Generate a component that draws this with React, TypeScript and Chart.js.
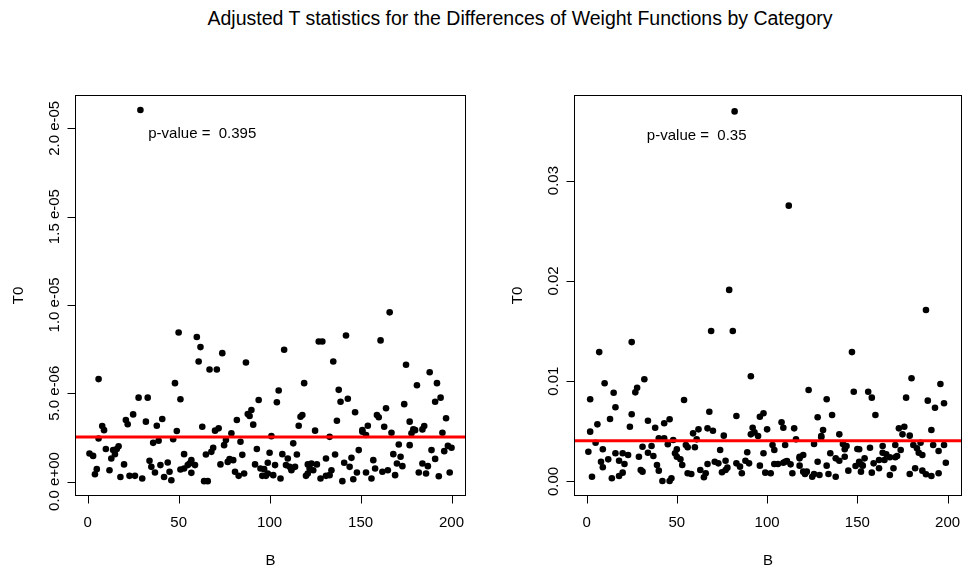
import React, { useEffect, useRef } from "react";
import { Chart, registerables } from "chart.js";

Chart.register(...registerables);

const FONT = '"Liberation Sans", Arial, Helvetica, sans-serif';

const TITLE = "Adjusted T statistics for the Differences of Weight Functions by Category";
const X_TITLE = "B";
const Y_TITLE = "T0";

const X_TICKS = [0, 50, 100, 150, 200];
const LEFT_Y_TICKS = [0, 5e-6, 1e-5, 1.5e-5, 2e-5];
const LEFT_Y_LABELS = ["0.0 e+00", "5.0 e-06", "1.0 e-05", "1.5 e-05", "2.0 e-05"];
const RIGHT_Y_TICKS = [0, 0.01, 0.02, 0.03];
const RIGHT_Y_LABELS = ["0.00", "0.01", "0.02", "0.03"];

// Left panel: B index and T0 (in units of 1e-6)
const LEFT_B = [
  1, 3, 4, 5, 6, 6, 8, 9, 10, 12, 13, 14, 15, 16, 17, 18, 20, 21, 22, 23, 25, 26, 28, 29, 30, 32, 33, 34, 35, 36, 37, 38, 39, 40, 41, 42, 44, 45, 46, 47, 48, 49, 50,
  51, 51, 53, 53, 55, 56, 57, 57, 59, 60, 61, 62, 63, 64, 65, 66, 67, 68, 69, 70, 71, 72, 73, 74, 75, 76, 77, 78, 79, 80, 81, 82, 83, 84, 85, 86, 87, 88, 89, 90, 91, 92, 93, 94, 95, 96, 97, 98, 99, 100, 101,
  99, 102, 103, 104, 105, 106, 107, 108, 109, 110, 111, 112, 112, 113, 114, 115, 116, 117, 118, 119, 120, 121, 121, 122, 123, 124, 125, 126, 127, 128, 129, 131, 131, 133, 133, 134, 135, 136, 137, 138, 139, 140, 141, 142, 143, 144, 145, 146, 147, 148, 149, 151,
  151, 153, 153, 154, 156, 157, 158, 159, 160, 161, 162, 163, 164, 165, 166, 167, 168, 169, 170, 171, 172, 173, 174, 175, 177, 177, 178, 179, 180, 181, 182, 184, 185, 184, 186, 187, 188, 189, 191, 191, 192, 193, 194, 195, 196, 197, 198, 199, 200,
];
const LEFT_T0_E6 = [
  1.59, 1.45, 0.41, 0.70, 2.44, 5.80, 3.14, 2.91, 1.84, 0.64, 1.30, 1.78, 1.55, 1.84, 2.00, 0.26, 0.97, 3.48, 3.24, 0.32, 3.80, 0.32, 4.75, 21.04, 0.17, 3.39, 4.75, 1.17, 0.83, 2.19, 0.51, 3.16, 2.31, 0.93, 3.54, 0.26, 1.08, 0.55, 0.07, 2.39, 5.57, 2.86, 8.44,
  4.66, 0.68, 1.55, 0.74, 0.93, 1.02, 1.21, 0.49, 0.93, 8.18, 6.80, 7.61, 3.10, 0.02, 1.53, 0.02, 6.34, 1.68, 1.91, 2.88, 6.34, 3.01, 0.97, 7.27, 2.06, 2.35, 1.11, 1.27, 2.73, 1.21, 0.55, 3.48, 0.32, 2.25, 1.51, 0.45, 6.74, 3.82, 3.71, 4.05, 3.22, 0.97, 1.84, 4.62, 0.74, 0.32, 0.70, 0.32, 1.06, 1.63, 2.57,
  0.45, 0.36, 0.93, 4.49, 5.15, 0.17, 1.55, 7.46, 0.93, 1.30, 0.83, 0.64, 0.74, 2.16, 0.83, 1.53, 3.16, 3.67, 3.77, 5.57, 0.32, 0.97, 0.45, 0.74, 1.02, 0.64, 2.88, 0.97, 7.93, 0.17, 7.93, 0.32, 1.30, 0.36, 2.53, 0.64, 6.80, 1.53, 3.44, 5.19, 4.52, 0.02, 1.06, 8.27, 4.69, 0.83, 1.34, 0.13, 3.92, 0.51, 1.78, 2.82,
  2.91, 2.63, 0.51, 3.16, 0.17, 1.21, 0.74, 3.77, 3.64, 7.99, 0.55, 3.10, 4.15, 0.64, 9.58, 2.76, 1.55, 0.36, 1.02, 2.10, 1.40, 0.87, 4.38, 6.61, 2.06, 3.39, 2.73, 2.95, 2.91, 5.45, 0.51, 2.95, 3.14, 1.02, 0.45, 0.87, 6.19, 1.78, 1.28, 4.52, 5.57, 0.30, 4.75, 2.76, 1.72, 3.58, 2.02, 0.51, 1.91,
];

// Right panel: B index and T0 (in units of 1e-3)
const RIGHT_B = [
  1, 2, 2, 3, 5, 6, 7, 8, 9, 9, 10, 12, 13, 14, 15, 16, 16, 18, 18, 20, 20, 21, 23, 24, 25, 25, 27, 28, 29, 30, 31, 31, 32, 34, 34, 36, 37, 38, 39, 40, 40, 42, 43, 43, 45, 46, 46, 47, 48, 49,
  50, 50, 52, 53, 54, 55, 56, 56, 58, 59, 60, 61, 62, 63, 65, 66, 67, 67, 68, 69, 70, 71, 73, 74, 75, 76, 77, 77, 78, 79, 81, 82, 83, 83, 85, 86, 88, 89, 90, 91, 91, 92, 93, 95, 96, 96, 98, 98, 99, 100,
  102, 103, 104, 104, 106, 108, 109, 109, 110, 110, 111, 112, 113, 114, 115, 116, 118, 118, 118, 120, 120, 121, 122, 123, 125, 126, 126, 128, 128, 129, 130, 130, 131, 133, 133, 134, 135, 136, 138, 138, 140, 140, 142, 143, 143, 144, 145, 147, 148, 149, 150,
  151, 151, 152, 152, 153, 154, 156, 157, 158, 158, 159, 160, 162, 162, 164, 164, 165, 166, 168, 168, 170, 171, 171, 172, 173, 174, 175, 176, 177, 179, 179, 180, 181, 182, 183, 184, 185, 186, 186, 188, 188, 189, 191, 191, 192, 193, 195, 195, 196, 198, 198, 199,
];
const RIGHT_T0_E3 = [
  2.97, 8.20, 4.97, 0.48, 3.87, 5.70, 12.9, 1.97, 3.21, 1.42, 9.79, 2.21, 6.23, 0.32, 8.85, 7.40, 2.81, 2.07, 0.55, 2.81, 0.88, 1.74, 2.64, 5.46, 6.70, 13.9, 8.89, 9.35, 2.47, 1.15, 0.98, 3.47, 10.2, 2.87, 6.06, 3.54, 2.54, 5.36, 1.65, 4.31, 1.08, 0.05, 4.31, 5.80, 3.71, 6.20, 0.05, 0.32, 4.14, 2.81,
  3.21, 2.47, 2.21, 1.65, 8.13, 3.64, 0.82, 3.41, 0.75, 4.80, 3.41, 4.20, 5.20, 1.15, 0.42, 0.82, 5.30, 1.74, 6.96, 15.0, 5.06, 1.97, 1.81, 3.14, 0.92, 4.57, 1.15, 2.07, 1.38, 19.1, 15.0, 36.9, 6.53, 1.81, 1.48, 0.82, 2.07, 2.91, 1.81, 10.5, 4.70, 5.36, 4.90, 4.54, 1.58, 6.46, 6.80, 2.81, 0.88, 5.20,
  0.82, 3.64, 3.14, 1.74, 1.74, 5.90, 5.36, 1.87, 3.64, 1.97, 2.04, 27.5, 1.71, 0.82, 5.30, 4.20, 2.47, 1.58, 2.31, 2.64, 0.98, 0.75, 0.98, 9.12, 0.48, 3.74, 0.75, 6.40, 1.97, 0.65, 4.40, 4.54, 5.13, 8.20, 1.58, 0.75, 2.81, 6.63, 0.48, 2.31, 2.07, 4.70, 3.74, 3.21, 2.47, 3.54, 1.08, 12.9, 8.95, 1.55, 3.24,
  3.21, 1.97, 1.71, 0.98, 1.58, 2.31, 8.95, 3.37, 8.36, 0.88, 1.81, 6.63, 1.32, 2.14, 2.87, 3.54, 2.14, 2.71, 0.65, 2.41, 1.32, 3.64, 2.41, 2.54, 5.30, 3.14, 4.70, 5.46, 8.36, 0.75, 4.57, 10.3, 3.64, 1.32, 3.31, 2.87, 3.87, 2.64, 1.08, 0.72, 17.1, 8.06, 0.55, 5.13, 3.64, 7.36, 0.82, 3.04, 9.72, 3.64, 7.80, 1.87,
];

const LEFT_MEAN = 2.52e-6;
const RIGHT_MEAN = 0.00407;
const LEFT_PVALUE = "p-value =  0.395";
const RIGHT_PVALUE = "p-value =  0.35";

type PanelProps = {
  left: number;
  padding: { left: number; right: number; top: number; bottom: number };
  xs: number[];
  ys: number[];
  mean: number;
  xMin: number;
  xMax: number;
  yMin: number;
  yMax: number;
  yTicks: number[];
  yLabels: string[];
  pText: string;
  pAt: [number, number];
};

function Panel(props: PanelProps) {
  const ref = useRef<HTMLCanvasElement | null>(null);
  useEffect(() => {
    const canvas = ref.current;
    if (!canvas) return;
    const points = props.xs.map((b, i) => ({ x: b, y: props.ys[i] }));
    const rAxes = {
      id: "rAxes",
      afterDraw(chart: any) {
        const { ctx, chartArea: a, scales } = chart;
        const x = scales.x;
        const y = scales.y;
        ctx.save();
        ctx.strokeStyle = "#000";
        ctx.fillStyle = "#000";
        ctx.lineWidth = 1;
        const L = Math.round(a.left) + 0.5;
        const T = Math.round(a.top) + 0.5;
        const R = Math.round(a.right) - 0.5;
        const B = Math.round(a.bottom) - 0.5;
        ctx.strokeRect(L, T, R - L, B - T);
        ctx.font = `15px ${FONT}`;
        ctx.textAlign = "center";
        ctx.textBaseline = "middle";
        // x axis
        ctx.beginPath();
        X_TICKS.forEach((v) => {
          const px = Math.round(x.getPixelForValue(v)) + 0.5;
          ctx.moveTo(px, B);
          ctx.lineTo(px, B + 8);
        });
        ctx.stroke();
        X_TICKS.forEach((v) => {
          const px = x.getPixelForValue(v);
          ctx.fillText(String(v), px, B + 27);
        });
        // y axis
        ctx.beginPath();
        props.yTicks.forEach((v) => {
          const py = Math.round(y.getPixelForValue(v)) + 0.5;
          ctx.moveTo(L, py);
          ctx.lineTo(L - 8, py);
        });
        ctx.stroke();
        props.yTicks.forEach((v, i) => {
          const py = y.getPixelForValue(v);
          ctx.save();
          ctx.translate(L - 21, py);
          ctx.rotate(-Math.PI / 2);
          ctx.fillText(props.yLabels[i], 0, 0);
          ctx.restore();
        });
        // axis titles
        ctx.fillText(X_TITLE, (a.left + a.right) / 2, B + 65);
        ctx.save();
        ctx.translate(L - 57, (a.top + a.bottom) / 2);
        ctx.rotate(-Math.PI / 2);
        ctx.fillText(Y_TITLE, 0, 0);
        ctx.restore();
        // p-value annotation
        ctx.fillText(props.pText, x.getPixelForValue(props.pAt[0]), y.getPixelForValue(props.pAt[1]));
        ctx.restore();
      },
    };
    const chart = new Chart(canvas, {
      type: "scatter",
      data: {
        datasets: [
          {
            type: "line",
            data: [
              { x: props.xMin, y: props.mean },
              { x: props.xMax, y: props.mean },
            ],
            borderColor: "#ff0000",
            borderWidth: 3,
            pointRadius: 0,
            order: 0,
          } as any,
          {
            data: points,
            backgroundColor: "#000",
            borderColor: "#000",
            borderWidth: 0,
            pointRadius: 3.3,
            order: 1,
          },
        ],
      },
      options: {
        responsive: false,
        animation: false,
        devicePixelRatio: 1,
        layout: { padding: props.padding },
        plugins: { legend: { display: false }, tooltip: { enabled: false }, title: { display: false } },
        events: [],
        scales: {
          x: { type: "linear", display: false, min: props.xMin, max: props.xMax },
          y: { type: "linear", display: false, min: props.yMin, max: props.yMax },
        },
      },
      plugins: [rAxes],
    });
    return () => chart.destroy();
  }, []);
  return (
    <canvas
      ref={ref}
      width={483}
      height={571}
      style={{ position: "absolute", left: props.left, top: 0, width: 483, height: 571, display: "block" }}
    />
  );
}

export default function App() {
  const X_MIN = 1 - 199 * 0.04;
  const X_MAX = 200 + 199 * 0.04;
  return (
    <div
      style={{
        position: "fixed",
        left: 0,
        top: 0,
        width: 966,
        height: 571,
        background: "#fff",
        overflow: "hidden",
      }}
    >
      <div
        style={{
          position: "absolute",
          left: 0,
          top: 7,
          width: 1040,
          textAlign: "center",
          fontFamily: FONT,
          fontSize: 19.5,
          lineHeight: "22px",
          color: "#000",
          whiteSpace: "nowrap",
        }}
      >
        {TITLE}
      </div>
      <Panel
        left={0}
        padding={{ left: 75, right: 17, top: 95, bottom: 75 }}
        xs={LEFT_B}
        ys={LEFT_T0_E6.map((v) => v * 1e-6)}
        mean={LEFT_MEAN}
        xMin={X_MIN}
        xMax={X_MAX}
        yMin={-0.82e-6}
        yMax={21.886e-6}
        yTicks={LEFT_Y_TICKS}
        yLabels={LEFT_Y_LABELS}
        pText={LEFT_PVALUE}
        pAt={[63, 19.7e-6]}
      />
      <Panel
        left={483}
        padding={{ left: 91, right: 2, top: 95, bottom: 75 }}
        xs={RIGHT_B}
        ys={RIGHT_T0_E3.map((v) => v * 1e-3)}
        mean={RIGHT_MEAN}
        xMin={X_MIN}
        xMax={X_MAX}
        yMin={-0.001446}
        yMax={0.038534}
        yTicks={RIGHT_Y_TICKS}
        yLabels={RIGHT_Y_LABELS}
        pText={RIGHT_PVALUE}
        pAt={[61, 0.0345]}
      />
    </div>
  );
}
